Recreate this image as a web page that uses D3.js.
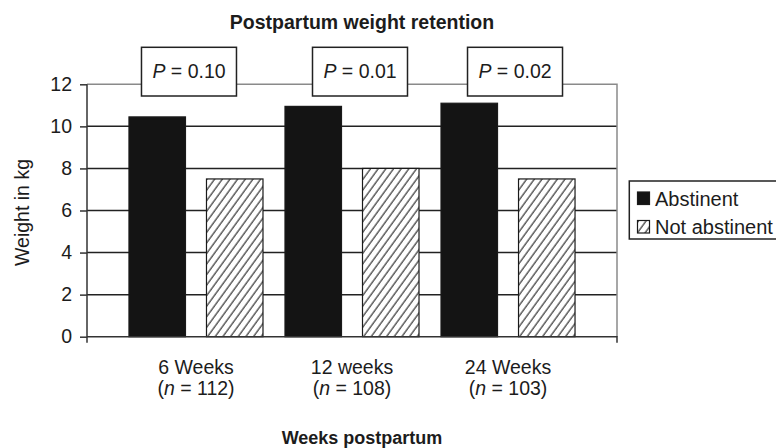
<!DOCTYPE html>
<html>
<head>
<meta charset="utf-8">
<script src="https://cdn.jsdelivr.net/npm/d3@7"></script>
<style>
  html, body { margin: 0; padding: 0; background: #fff; }
  svg { display: block; font-family: "Liberation Sans", Arial, Helvetica, sans-serif; }
</style>
</head>
<body>
<svg id="chart" width="776" height="448"></svg>
<script>
// ---- data ----
const categories = ["6 Weeks", "12 weeks", "24 Weeks"];
const sampleSizes = ["112", "108", "103"];
const seriesNames = ["Abstinent", "Not abstinent"];
const abstinent = [10.45, 10.95, 11.1];
const notAbstinent = [7.5, 8.0, 7.5];
const pValues = ["0.10", "0.01", "0.02"];
const yTicks = [0, 2, 4, 6, 8, 10, 12];

(function () {
// ---- layout ----
const svg = d3.select("#chart");
const plotL = 87, plotR = 617, plotT = 84.3, plotB = 336.7;
const ink = "#1c1c1c";

const x = d3.scaleBand().domain(categories).range([plotL, plotR])
  .paddingInner(0.141).paddingOuter(0.269);
const xs = d3.scaleBand().domain(seriesNames).range([0, x.bandwidth()])
  .paddingInner(0.271).paddingOuter(0);
const y = d3.scaleLinear().domain([0, 12]).range([plotB, plotT]);

// hatch pattern
const defs = svg.append("defs");
defs.append("pattern")
  .attr("id", "hatch").attr("patternUnits", "userSpaceOnUse")
  .attr("width", 6.2).attr("height", 10)
  .attr("patternTransform", "rotate(36)")
  .call(p => {
    p.append("rect").attr("width", 6.2).attr("height", 10).attr("fill", "#fff");
    p.append("line").attr("x1", 1).attr("x2", 1).attr("y1", 0).attr("y2", 10)
      .attr("stroke", "#222").attr("stroke-width", 1.1);
  });

// title
svg.append("text").attr("x", 362).attr("y", 29).attr("text-anchor", "middle")
  .attr("font-size", 19.5).attr("font-weight", "bold").attr("fill", ink)
  .text("Postpartum weight retention");

// gridlines
svg.append("g").selectAll("line").data(yTicks.filter(d => d > 0 && d < 12)).join("line")
  .attr("x1", plotL).attr("x2", plotR).attr("y1", d => y(d)).attr("y2", d => y(d))
  .attr("stroke", "#222").attr("stroke-width", 1.5);
// top & right border (gray)
svg.append("path")
  .attr("d", `M${plotL},${y(12)}H${plotR}V${y(0)}`)
  .attr("fill", "none").attr("stroke", "#8a8a8a").attr("stroke-width", 1.5);

// bars
const data = categories.map((c, i) => ({ cat: c, vals: [abstinent[i], notAbstinent[i]] }));
const groups = svg.append("g").selectAll("g").data(data).join("g")
  .attr("transform", d => `translate(${x(d.cat)},0)`);
groups.selectAll("rect").data(d => d.vals.map((v, j) => ({ s: seriesNames[j], v })))
  .join("rect")
  .attr("x", d => xs(d.s)).attr("width", xs.bandwidth())
  .attr("y", d => y(d.v)).attr("height", d => y(0) - y(d.v))
  .attr("fill", d => d.s === "Abstinent" ? "#141414" : "url(#hatch)")
  .attr("stroke", "#1a1a1a").attr("stroke-width", 1.2);

// y axis
const yAxis = svg.append("g").attr("transform", `translate(${plotL},0)`)
  .call(d3.axisLeft(y).tickValues(yTicks).tickSize(7).tickPadding(8).tickFormat(d3.format("d")));
yAxis.select(".domain").attr("stroke", "#333").attr("stroke-width", 1.5)
  .attr("d", `M0,${y(12)}V${y(0) + 6}`);
yAxis.selectAll(".tick line").attr("stroke", "#333").attr("stroke-width", 1.5);
yAxis.selectAll(".tick text").attr("font-size", 19.5).attr("fill", ink)
  .attr("font-family", "Liberation Sans, Arial, sans-serif");

// x axis baseline
svg.append("path").attr("d", `M${plotL},${y(0)}H${plotR}V${y(0) + 6}`)
  .attr("fill", "none").attr("stroke", "#333").attr("stroke-width", 1.5);

// category labels
const catLab = svg.append("g").selectAll("g").data(categories).join("g")
  .attr("transform", d => `translate(${x(d) + x.bandwidth() / 2},0)`);
catLab.append("text").attr("y", 374).attr("text-anchor", "middle")
  .attr("font-size", 19.5).attr("fill", ink).text(d => d);
catLab.append("text").attr("y", 395).attr("text-anchor", "middle")
  .attr("font-size", 19.5).attr("fill", ink)
  .each(function (d, i) {
    const t = d3.select(this);
    t.append("tspan").text("(");
    t.append("tspan").attr("font-style", "italic").text("n");
    t.append("tspan").text(" = " + sampleSizes[i] + ")");
  });

// x axis title
svg.append("text").attr("x", 362).attr("y", 444).attr("text-anchor", "middle")
  .attr("font-size", 18).attr("font-weight", "bold").attr("fill", ink)
  .text("Weeks postpartum");

// y axis title
svg.append("text").attr("transform", "translate(29,212.5) rotate(-90)")
  .attr("text-anchor", "middle").attr("font-size", 19.5).attr("fill", ink)
  .text("Weight in kg");

// P-value boxes
const boxOffset = [-7, 8, 7];
const pb = svg.append("g").selectAll("g").data(pValues).join("g")
  .attr("transform", (d, i) => `translate(${x(categories[i]) + x.bandwidth() / 2 + boxOffset[i]},0)`);
pb.append("rect").attr("x", -47.5).attr("y", 47.3).attr("width", 95).attr("height", 48.7)
  .attr("fill", "#fff").attr("stroke", "#222").attr("stroke-width", 1.5);
pb.append("text").attr("y", 78).attr("text-anchor", "middle")
  .attr("font-size", 19.5).attr("fill", ink)
  .each(function (d) {
    const t = d3.select(this);
    t.append("tspan").attr("font-style", "italic").text("P");
    t.append("tspan").text(" = " + d);
  });

// legend
const lg = svg.append("g");
lg.append("rect").attr("x", 629.3).attr("y", 181).attr("width", 160).attr("height", 58)
  .attr("fill", "#fff").attr("stroke", "#222").attr("stroke-width", 1.5);
const li = lg.selectAll("g").data(seriesNames).join("g")
  .attr("transform", (d, i) => `translate(637.5,${192 + i * 28.5})`);
li.append("rect").attr("width", 12).attr("height", 12.5)
  .attr("fill", d => d === "Abstinent" ? "#141414" : "url(#hatch)")
  .attr("stroke", "#1a1a1a").attr("stroke-width", 1.2);
li.append("text").attr("x", 17.5).attr("y", 13.5).attr("font-size", 20).attr("fill", ink)
  .text(d => d);
})();
</script>
</body>
</html>
